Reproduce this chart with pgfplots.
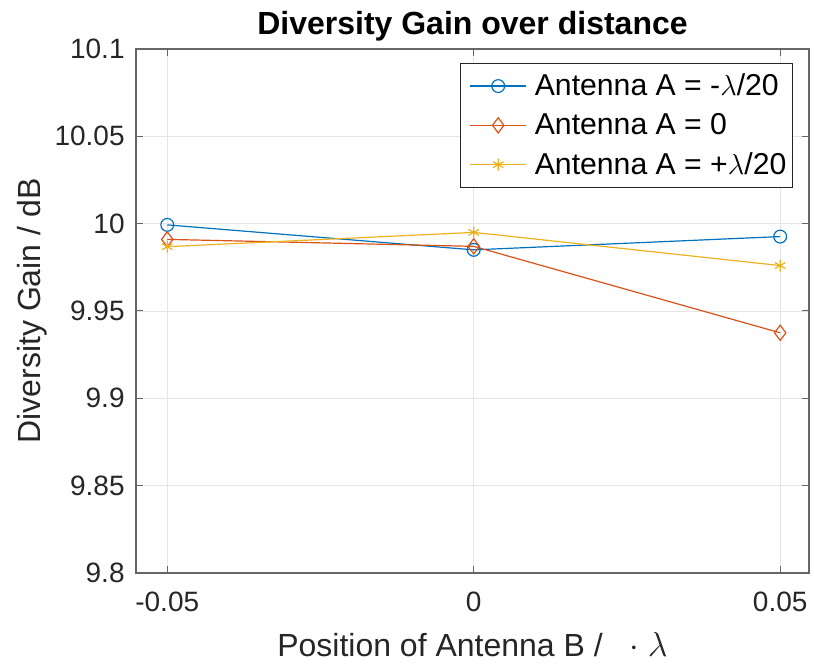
\documentclass[border=0pt]{standalone}
\usepackage{fontspec}
\setmainfont{Liberation Sans}
\usepackage{pgfplots}
\pgfplotsset{compat=1.18}
\usetikzlibrary{calc}
\definecolor{mblue}{rgb}{0,0.447,0.741}
\definecolor{morange}{rgb}{0.85,0.325,0.098}
\definecolor{myellow}{rgb}{0.929,0.694,0.125}
\definecolor{maxis}{rgb}{0.15,0.15,0.15}
\begin{document}
\begin{tikzpicture}
\begin{axis}[
  scale only axis, width=336.5pt, height=262pt,
  xmin=-0.0551, xmax=0.0547, ymin=9.8, ymax=10.1,
  xtick={-0.05,0,0.05}, xticklabels={-0.05,0,0.05},
  ytick={9.8,9.85,9.9,9.95,10,10.05,10.1},
  yticklabels={9.8,9.85,9.9,9.95,10,10.05,10.1},
  tick align=inside, xtick pos=both, ytick pos=both,
  major tick length=3.5pt,
  tick style={color=black!60, line width=0.5pt},
  grid=major, grid style={color=black!10, line width=0.4pt},
  axis line style={color=black!60, line width=0.6pt},
  /pgf/number format/assume math mode=true,
  tick label style={font=\fontsize{14}{16}\selectfont, text=maxis},
  xticklabel style={anchor=base, yshift=-19.5pt},
  yticklabel style={anchor=east, inner sep=0pt, xshift=-5.5pt},
  every axis title shift=0pt,
  title={Diversity Gain over distance},
  title style={font=\bfseries\fontsize{16}{19}\selectfont, at={(axis description cs:0.5,1.0267)}, anchor=base},
  xlabel={Position of Antenna B /\ \ \ $\cdot\ \lambda$},
  xlabel style={font=\fontsize{16}{19}\selectfont, text=maxis, at={(axis description cs:0.5,-0.1603)}, anchor=base},
  ylabel={Diversity Gain / dB},
  ylabel style={font=\fontsize{16}{19}\selectfont, text=maxis, at={(axis description cs:-0.1426,0.5)}, rotate=0, anchor=base},
  legend style={at={(0.976,0.973)}, anchor=north east, draw=maxis, line width=0.5pt,
    font=\fontsize{15.1}{18}\selectfont, cells={anchor=west, inner xsep=0.5pt}, inner xsep=4.5pt, inner ysep=3pt,
    row sep=3.4pt, /tikz/column 1/.style={column sep=2pt}},
  legend image code/.code={\draw[#1, mark repeat=2, mark phase=2] plot coordinates {(0pt,0pt) (14pt,0pt) (28pt,0pt)};},
]
\addplot[color=mblue, line width=0.6pt, mark=o, mark size=3.2pt, mark options={solid, line width=0.6pt}]
  coordinates {(-0.05,9.9993) (0,9.985) (0.05,9.9926)};
\addlegendentry{Antenna A = -$\lambda$/20\hspace*{-3.5pt}}
\addplot[color=morange, line width=0.6pt, mark=diamond, mark size=3.8pt, mark options={solid, line width=0.6pt}]
  coordinates {(-0.05,9.991) (0,9.987) (0.05,9.9375)};
\addlegendentry{Antenna A = 0\hspace*{-3.5pt}}
\addplot[color=myellow, line width=0.6pt, mark=asterisk, mark size=3pt, mark options={solid, line width=0.6pt}]
  coordinates {(-0.05,9.9868) (0,9.995) (0.05,9.976)};
\addlegendentry{Antenna A = +$\lambda$/20\hspace*{-3.5pt}}
\end{axis}
\pgfresetboundingbox
\path ($(current axis.south west)+(-68pt,-46.5pt)$) rectangle ($(current axis.north east)+(2.5pt,24.5pt)$);
\end{tikzpicture}
\end{document}
